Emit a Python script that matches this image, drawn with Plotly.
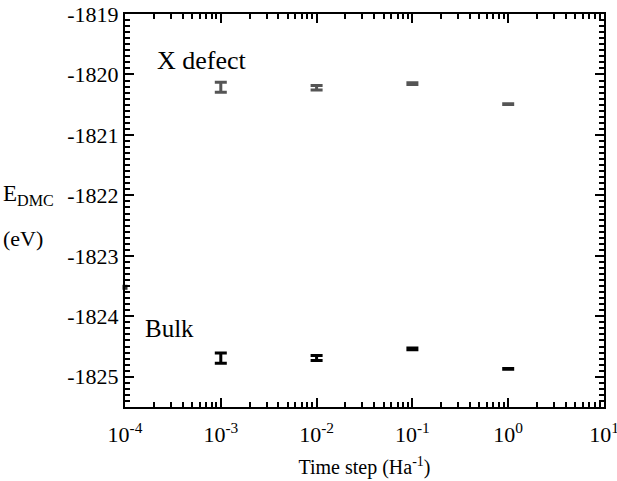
import plotly.graph_objects as go

# DMC total energies vs. time step
time_steps = [1e-3, 1e-2, 1e-1, 1e0]
defect_energy = [-1820.21, -1820.22, -1820.15, -1820.49]
defect_err = [0.083, 0.039, 0.014, 0.005]
bulk_energy = [-1824.69, -1824.69, -1824.54, -1824.87]
bulk_err = [0.085, 0.040, 0.015, 0.005]
# stray point sitting on the left frame
edge_step = [1e-4]
edge_energy = [-1823.52]

x_tickvals = [1e-4, 1e-3, 1e-2, 1e-1, 1e0, 1e1]
x_ticktext = ["10<sup>-4</sup>", "10<sup>-3</sup>", "10<sup>-2</sup>",
              "10<sup>-1</sup>", "10<sup>0</sup>", "10<sup>1</sup>"]
y_tickvals = [-1825, -1824, -1823, -1822, -1821, -1820, -1819]

# minor tick positions: 2..9 in each decade, 0.1 eV steps on the energy axis
x_minor = [m * 10.0 ** e for e in range(-4, 1) for m in range(2, 10)]
y_minor = [round(-1825.5 + 0.1 * i, 1) for i in range(66)]

X_RANGE = [-4, 1]
Y_RANGE = [-1825.5, -1819]

FONT = "Times New Roman"
BLACK = "black"

fig = go.Figure()


def add_series(y, err, color):
    fig.add_trace(go.Scatter(
        x=time_steps, y=y, mode="markers",
        marker=dict(size=1, color=color, opacity=0),
        error_y=dict(type="data", array=err, visible=True,
                     color=color, thickness=3, width=6),
        showlegend=False, hoverinfo="skip",
    ))


add_series(defect_energy, defect_err, "#555555")
add_series(bulk_energy, bulk_err, "#000000")

fig.add_trace(go.Scatter(
    x=edge_step, y=edge_energy, mode="markers", cliponaxis=False,
    marker=dict(symbol="square", size=5, color="#333333"),
    showlegend=False, hoverinfo="skip",
))

# invisible trace anchoring the minor-tick overlay axes
fig.add_trace(go.Scatter(
    x=[x_tickvals[0]], y=[y_tickvals[0]], xaxis="x2", yaxis="y2",
    mode="markers", marker=dict(opacity=0), showlegend=False, hoverinfo="skip",
))

fig.add_annotation(x=0.062, xref="paper", y=-1820.05, yref="y",
                   text="X defect", showarrow=False, xanchor="left",
                   yanchor="bottom", font=dict(family=FONT, size=26, color=BLACK))
fig.add_annotation(x=0.038, xref="paper", y=-1824.45, yref="y",
                   text="Bulk", showarrow=False, xanchor="left",
                   yanchor="bottom", font=dict(family=FONT, size=25, color=BLACK))

# y-axis label as two lines at the left edge
fig.add_annotation(text="E<sub>DMC</sub>", showarrow=False,
                   xref="paper", x=-0.258, xanchor="left",
                   yref="y", y=-1822.0, yanchor="middle",
                   font=dict(family=FONT, size=23, color=BLACK))
fig.add_annotation(text="(eV)", showarrow=False,
                   xref="paper", x=-0.258, xanchor="left",
                   yref="y", y=-1822.72, yanchor="middle",
                   font=dict(family=FONT, size=22, color=BLACK))

fig.update_layout(
    xaxis=dict(
        type="log", range=X_RANGE, automargin=False,
        tickmode="array", tickvals=x_tickvals, ticktext=x_ticktext,
        ticks="inside", ticklen=9, tickwidth=2, tickcolor=BLACK,
        showline=True, linewidth=2, linecolor=BLACK, mirror="ticks",
        showgrid=False, zeroline=False,
        ticklabelstandoff=7, ticklabeloverflow="allow",
        tickfont=dict(family=FONT, size=22, color=BLACK),
        title=dict(text="Time step (Ha<sup>-1</sup>)",
                   font=dict(family=FONT, size=20, color=BLACK), standoff=14),
    ),
    yaxis=dict(
        range=Y_RANGE, automargin=False,
        tickmode="array", tickvals=y_tickvals,
        ticktext=[str(v) for v in y_tickvals],
        ticks="inside", ticklen=9, tickwidth=2, tickcolor=BLACK,
        showline=True, linewidth=2, linecolor=BLACK, mirror="ticks",
        showgrid=False, zeroline=False, ticklabeloverflow="allow",
        tickfont=dict(family=FONT, size=22, color=BLACK),
    ),
    xaxis2=dict(
        type="log", range=X_RANGE, overlaying="x", anchor="y", automargin=False,
        tickmode="array", tickvals=x_minor, showticklabels=False,
        ticks="inside", ticklen=5, tickwidth=2, tickcolor=BLACK,
        showline=False, mirror="ticks", showgrid=False, zeroline=False,
    ),
    yaxis2=dict(
        range=Y_RANGE, overlaying="y", anchor="x", automargin=False,
        tickmode="array", tickvals=y_minor, showticklabels=False,
        ticks="inside", ticklen=5, tickwidth=2, tickcolor=BLACK,
        showline=False, mirror="ticks", showgrid=False, zeroline=False,
    ),
    width=617, height=481,
    margin=dict(l=125, r=13, t=14, b=74),
    plot_bgcolor="white", paper_bgcolor="white",
    font=dict(family=FONT, color=BLACK),
)

fig.write_html("out.html")
